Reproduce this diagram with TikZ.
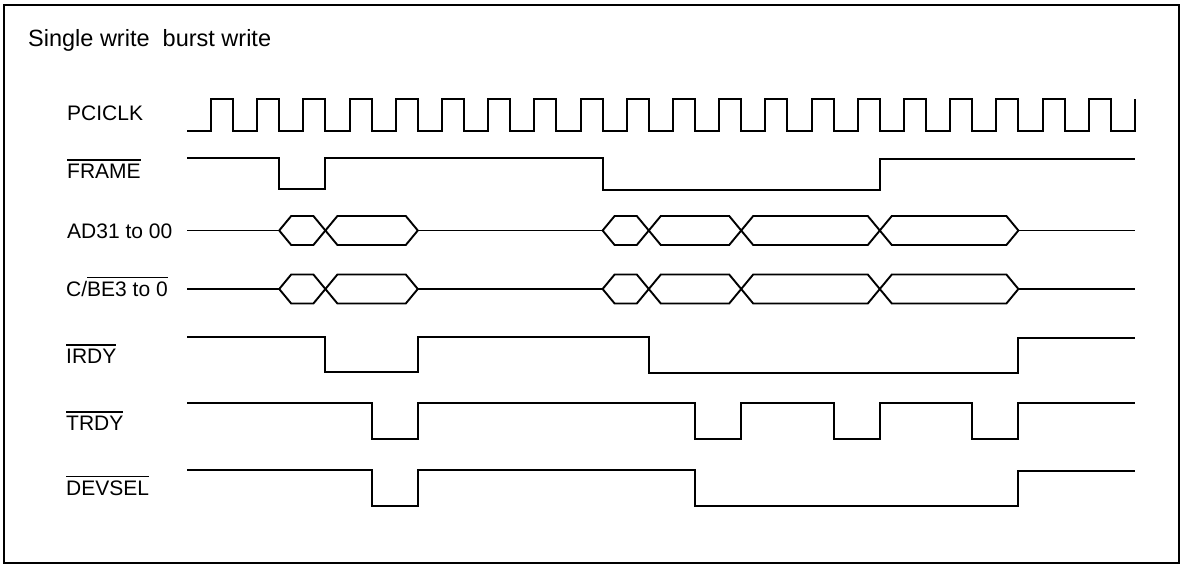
\documentclass[tikz,border=0pt]{standalone}
\usepackage{fontspec}
\setmainfont{Liberation Sans}
\newcommand\ovline[1]{\setbox0\hbox{#1}\rlap{\raisebox{\dimexpr\ht0+3pt\relax}{\rule{\wd0}{1.3pt}}}\box0}
\newcommand\hexseg[4]{\draw[sig] (#2,#1) -- ({#2+12},{#1-#4}) -- ({#3-12},{#1-#4}) -- (#3,#1) -- ({#3-12},{#1+#4}) -- ({#2+12},{#1+#4}) -- cycle;}
\begin{document}
\begin{tikzpicture}[x=1pt,y=-1pt,
  sig/.style={line width=1.9pt, line join=miter},
  lbl/.style={anchor=base west, inner sep=0pt, font=\fontsize{21}{24}\selectfont}]
\useasboundingbox (0,0) rectangle (1183,565);
\draw[line width=1.5pt] (4,5) rectangle (1179,563);
\node[anchor=base west, inner sep=0pt, font=\fontsize{23.5}{27}\selectfont] (title) at (28,46) {Single write~\ burst write};
% labels
\node[lbl] (lclk) at (67,120.5) {PCICLK};
\node[lbl] (lframe) at (67,178) {\ovline{FRAME}};
\node[lbl] (lad) at (67,238.5) {AD31 to 00};
\node[lbl] (lcbe) at (66,296) {C/\ovline{BE3 to 0}};
\node[lbl] (lirdy) at (66,363) {\ovline{IRDY}};
\node[lbl] (ltrdy) at (66,430) {\ovline{TRDY}};
\node[lbl] (ldevsel) at (66,495) {\ovline{DEVSEL}};
% clock
\draw[sig] (187,131) foreach \k in {0,...,19}{ -- ({211+46.2*\k},131) -- ({211+46.2*\k},99) -- ({233+46.2*\k},99) -- ({233+46.2*\k},131)} -- (1135,131) -- (1135,99);
% FRAME
\draw[sig] (187,158) -- (279.2,158) -- (279.2,189) -- (325.4,189) -- (325.4,158) -- (602.6,158) -- (602.6,190) -- (879.8,190) -- (879.8,159) -- (1135,159);
% AD bus
\draw[sig] (187,230.5) -- (279.2,230.5);
\hexseg{230.5}{279.2}{325.4}{14.5}
\hexseg{230.5}{325.4}{417.8}{14.5}
\draw[sig] (417.8,230.5) -- (602.6,230.5);
\hexseg{230.5}{602.6}{648.8}{14.5}
\hexseg{230.5}{648.8}{741.2}{14.5}
\hexseg{230.5}{741.2}{879.8}{14.5}
\hexseg{230.5}{879.8}{1018.4}{14.5}
\draw[sig] (1018.4,230.5) -- (1135,230.5);
% C/BE bus
\draw[sig] (187,289) -- (279.2,289);
\hexseg{289}{279.2}{325.4}{14.5}
\hexseg{289}{325.4}{417.8}{14.5}
\draw[sig] (417.8,289) -- (602.6,289);
\hexseg{289}{602.6}{648.8}{14.5}
\hexseg{289}{648.8}{741.2}{14.5}
\hexseg{289}{741.2}{879.8}{14.5}
\hexseg{289}{879.8}{1018.4}{14.5}
\draw[sig] (1018.4,289) -- (1135,289);
% IRDY
\draw[sig] (187,337) -- (325.4,337) -- (325.4,372) -- (417.8,372) -- (417.8,337) -- (648.8,337) -- (648.8,373) -- (1018.4,373) -- (1018.4,338) -- (1135,338);
% TRDY
\draw[sig] (187,403) -- (371.6,403) -- (371.6,439) -- (417.8,439) -- (417.8,403) -- (695,403) -- (695,439) -- (741.2,439) -- (741.2,403) -- (833.6,403) -- (833.6,439) -- (879.8,439) -- (879.8,403) -- (972.2,403) -- (972.2,439) -- (1018.4,439) -- (1018.4,403) -- (1135,403);
% DEVSEL
\draw[sig] (187,470) -- (371.6,470) -- (371.6,506) -- (417.8,506) -- (417.8,470) -- (695,470) -- (695,506) -- (1018.4,506) -- (1018.4,471) -- (1135,471);
\end{tikzpicture}
\end{document}
